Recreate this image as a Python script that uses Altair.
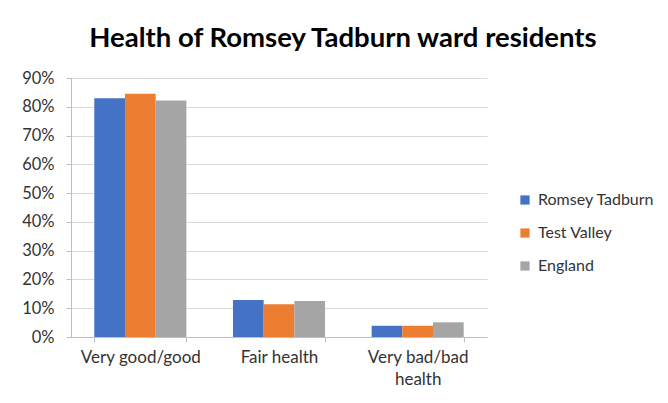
import altair as alt
import pandas as pd

categories = ["Very good/good", "Fair health", "Very bad/bad health"]
series = ["Romsey Tadburn", "Test Valley", "England"]
romsey = [0.83, 0.129, 0.039]
test_valley = [0.845, 0.114, 0.039]
england = [0.822, 0.125, 0.051]
colors = ["#4472C4", "#ED7D31", "#A5A5A5"]

rows = []
for s, vals in zip(series, [romsey, test_valley, england]):
    for c, v in zip(categories, vals):
        rows.append({"category": c, "series": s, "value": v})
df = pd.DataFrame(rows)

FONT = "Lato"

chart = alt.Chart(df).mark_bar().encode(
    x=alt.X("category:N", sort=categories,
            scale=alt.Scale(paddingInner=0.336, paddingOuter=0.168),
            axis=alt.Axis(title=None, labelAngle=0, tickBand="extent", grid=False,
                          domainColor="#bfbfbf", tickColor="#bfbfbf", tickSize=5,
                          labelFont=FONT, labelFontSize=17, labelColor="#333333",
                          labelPadding=7, labelLineHeight=22,
                          labelExpr="datum.label == 'Very bad/bad health' ? ['Very bad/bad', 'health'] : datum.label")),
    xOffset=alt.XOffset("series:N", sort=series),
    y=alt.Y("value:Q", scale=alt.Scale(domain=[0, 0.9], nice=False),
            axis=alt.Axis(title=None, format=".0%", values=[i / 10 for i in range(10)],
                          gridColor="#d9d9d9", domainColor="#bfbfbf", tickColor="#bfbfbf",
                          tickSize=5, labelFont=FONT, labelFontSize=16.5, labelColor="#333333",
                          labelPadding=12)),
    color=alt.Color("series:N", sort=series,
                    scale=alt.Scale(domain=series, range=colors),
                    legend=alt.Legend(title=None, orient="none", legendX=446, legendY=114,
                                      symbolType="square", symbolSize=85,
                                      symbolStrokeWidth=0, labelFont=FONT,
                                      labelFontSize=16, labelColor="#333333",
                                      rowPadding=17, labelOffset=5, labelLimit=200)),
).properties(
    width=416,
    height=259,
    title=alt.Title("Health of Romsey Tadburn ward residents", font=FONT, fontSize=27.5,
                    fontWeight="bold", color="#000000", anchor="middle", dx=64,
                    baseline="alphabetic", offset=-4),
    autosize=alt.AutoSizeParams(type="none"),
    padding={"left": 63, "top": 70, "right": 173, "bottom": 58},
).configure_view(stroke=None)

chart.save("out.html", embed_options={"renderer": "svg", "actions": False})
